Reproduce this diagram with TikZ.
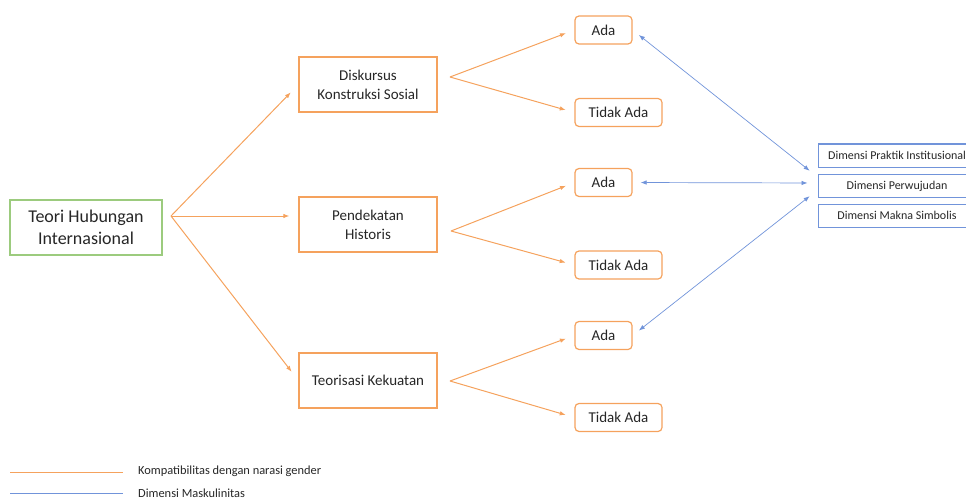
\documentclass[tikz,border=0pt]{standalone}
\usepackage{fontspec}
\setmainfont{Carlito}
\usepackage{tikz}
\usepackage{xcolor}
\usetikzlibrary{arrows.meta, positioning, calc}
\definecolor{orgline}{HTML}{F5A25D}
\definecolor{grnline}{HTML}{9CCB7E}
\definecolor{bluline}{HTML}{7194DA}
\definecolor{txtgray}{HTML}{262626}

\begin{document}
\begin{tikzpicture}[
    x=1pt, y=-1pt,
    every node/.style={text=txtgray, inner sep=0pt},
    rootbox/.style={draw=grnline, line width=1.2pt, minimum width=152pt, minimum height=55pt, align=center, font=\fontsize{18}{22}\selectfont},
    mainbox/.style={draw=orgline, line width=1.2pt, minimum width=138pt, minimum height=55pt, align=center, font=\fontsize{15}{19}\selectfont},
    ansbox/.style={draw=orgline, line width=1.2pt, rounded corners=4pt, minimum height=28pt, font=\fontsize{15}{17}\selectfont},
    dimbox/.style={draw=bluline, line width=1pt, minimum width=158pt, minimum height=23pt, font=\fontsize{12}{14}\selectfont},
    orgarrow/.style={draw=orgline, line width=1pt, -{Latex[length=6pt,width=4.5pt]}},
    bluarrow/.style={draw=bluline, line width=0.7pt, {Latex[length=6pt,width=4.5pt]}-{Latex[length=6pt,width=4.5pt]}},
    ]
    \useasboundingbox (0,0) rectangle (966,500);
    \clip (0,0) rectangle (966,500);

    % root (left)
    \node[rootbox] (thi) at (86,227.5) {Teori Hubungan\\Internasional};

    % three approaches
    \node[mainbox] (dks) at (368,84.5) {Diskursus\\Konstruksi Sosial};
    \node[mainbox] (phs) at (368,224.5) {Pendekatan\\Historis};
    \node[mainbox] (tkk) at (368,380.5) {Teorisasi Kekuatan};

    % answers
    \node[ansbox, minimum width=57pt] (ada1) at (603.5,30) {Ada};
    \node[ansbox, minimum width=87pt] (tda1) at (618.5,112.5) {Tidak Ada};
    \node[ansbox, minimum width=57pt] (ada2) at (603.5,182.5) {Ada};
    \node[ansbox, minimum width=87pt] (tda2) at (618.5,265) {Tidak Ada};
    \node[ansbox, minimum width=57pt] (ada3) at (603.5,335.5) {Ada};
    \node[ansbox, minimum width=87pt] (tda3) at (618.5,417.5) {Tidak Ada};

    % dimensions (right, cut by the border)
    \node[dimbox] (dim1) at (897,155.5) {Dimensi Praktik Institusional};
    \node[dimbox] (dim2) at (897,186) {Dimensi Perwujudan};
    \node[dimbox] (dim3) at (897,215.5) {Dimensi Makna Simbolis};

    % fork points
    \coordinate (fk0) at (171,216);
    \coordinate (fk1) at (450,77);
    \coordinate (fk2) at (451,231);
    \coordinate (fk3) at (450,381);

    % orange arrows
    \draw[orgarrow, shorten >=11pt] (fk0) -- (dks.west);
    \draw[orgarrow, shorten >=9pt] (fk0) -- (fk0 -| phs.west);
    \draw[orgarrow, shorten >=11pt] (fk0) -- (tkk.west);
    \draw[orgarrow, shorten >=9pt] (fk1) -- (ada1.west);
    \draw[orgarrow, shorten >=9pt] (fk1) -- (tda1.west);
    \draw[orgarrow, shorten >=9pt] (fk2) -- (ada2.west);
    \draw[orgarrow, shorten >=9pt] (fk2) -- (tda2.west);
    \draw[orgarrow, shorten >=9pt] (fk3) -- (ada3.west);
    \draw[orgarrow, shorten >=9pt] (fk3) -- (tda3.west);

    % blue arrows
    \draw[bluarrow, shorten <=8pt, shorten >=10pt] (ada1.east) -- ([yshift=9pt]dim2.west);
    \draw[bluarrow, shorten <=8pt, shorten >=10pt] (ada2.east) -- ([yshift=3pt]dim2.west);
    \draw[bluarrow, shorten <=8pt, shorten >=10pt] (ada3.east) -- ([yshift=-4pt]dim2.west);

    % legend
    \coordinate (lg1a) at (10,472);
    \coordinate (lg1b) at (123,472);
    \coordinate (lg2a) at (10,493);
    \coordinate (lg2b) at (123,493);
    \draw[orgline, line width=1pt] (lg1a) -- (lg1b);
    \draw[bluline, line width=1pt] (lg2a) -- (lg2b);
    \node[anchor=west, font=\fontsize{12.4}{14}\selectfont] (lgt1) at (138,471) {Kompatibilitas dengan narasi gender};
    \node[anchor=west, font=\fontsize{12.4}{14}\selectfont] (lgt2) at (138,493) {Dimensi Maskulinitas};
\end{tikzpicture}
\end{document}
